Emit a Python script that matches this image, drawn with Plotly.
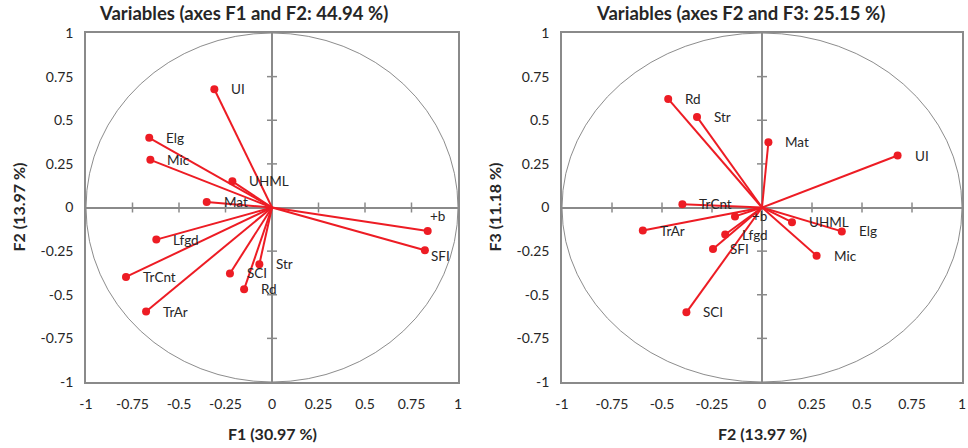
import plotly.graph_objects as go

# ---- data ----
variables = ["UI", "Elg", "Mic", "UHML", "Mat", "+b", "SFI", "Lfgd", "TrCnt", "TrAr", "SCI", "Str", "Rd"]
F1 = [-0.31, -0.66, -0.654, -0.213, -0.351, 0.837, 0.822, -0.622, -0.785, -0.677, -0.226, -0.068, -0.15]
F2 = [0.678, 0.399, 0.273, 0.150, 0.032, -0.135, -0.245, -0.184, -0.398, -0.596, -0.378, -0.325, -0.469]
F3 = [0.298, -0.137, -0.276, -0.084, 0.374, -0.051, -0.238, -0.155, 0.019, -0.132, -0.601, 0.519, 0.622]

tick_vals = [-1, -0.75, -0.5, -0.25, 0, 0.25, 0.5, 0.75, 1]
tick_text = ["-1", "-0.75", "-0.5", "-0.25", "0", "0.25", "0.5", "0.75", "1"]

titles = ["Variables (axes F1 and F2: 44.94 %)", "Variables (axes F2 and F3: 25.15 %)"]
x_titles = ["F1 (30.97 %)", "F2 (13.97 %)"]
y_titles = ["F2 (13.97 %)", "F3 (11.18 %)"]

# ---- style ----
W, H = 968, 448
RED = "#ED1C24"
GREY = "#8A8A8A"
FONT = "Lato"
TXT = "#262626"

panels = [
    dict(xs=F1, ys=F2, xdom=(86 / W, 458 / W), xa="x", ya="y",
         label_shift={"+b": (0, 15), "SFI": (4, -6)}),
    dict(xs=F2, ys=F3, xdom=(562 / W, 962 / W), xa="x2", ya="y2",
         label_shift={}),
]
ydom = ((448 - 382) / H, (448 - 33) / H)

fig = go.Figure()
shapes = []
annotations = []

for i, p in enumerate(panels):
    xs, ys = p["xs"], p["ys"]
    lx, ly = [], []
    for x, y in zip(xs, ys):
        lx += [0, x, None]
        ly += [0, y, None]
    fig.add_trace(go.Scatter(x=lx, y=ly, mode="lines", xaxis=p["xa"], yaxis=p["ya"],
                             line=dict(color=RED, width=2), hoverinfo="skip", showlegend=False))
    fig.add_trace(go.Scatter(x=xs, y=ys, mode="markers", xaxis=p["xa"], yaxis=p["ya"],
                             marker=dict(color=RED, size=8), text=variables,
                             showlegend=False))
    # unit circle
    shapes.append(dict(type="circle", xref=p["xa"], yref=p["ya"], x0=-1, y0=-1, x1=1, y1=1,
                       line=dict(color="#6E6E6E", width=0.8), layer="below"))
    # cross ticks on zero lines
    for v in tick_vals:
        if v in (-1, 0, 1):
            continue
        shapes.append(dict(type="line", xref=p["xa"], yref=p["ya"], x0=v, x1=v,
                           ysizemode="pixel", yanchor=0, y0=-5, y1=5,
                           line=dict(color=GREY, width=1.5), layer="below"))
        shapes.append(dict(type="line", xref=p["xa"], yref=p["ya"], y0=v, y1=v,
                           xsizemode="pixel", xanchor=0, x0=-5, x1=5,
                           line=dict(color=GREY, width=1.5), layer="below"))
    # point labels
    for name, x, y in zip(variables, xs, ys):
        dx, dy = p["label_shift"].get(name, (15, 0))
        annotations.append(dict(x=x, y=y, xref=p["xa"], yref=p["ya"], text=name,
                                showarrow=False, xanchor="left", yanchor="middle",
                                xshift=dx, yshift=dy,
                                font=dict(family=FONT, size=13.5, color=TXT)))
    xmid = (p["xdom"][0] + p["xdom"][1]) / 2
    # title
    tcx = [243 / W, 740 / W][i]
    annotations.append(dict(x=tcx, y=1 - 13 / H, xref="paper", yref="paper", text="<b>" + titles[i] + "</b>",
                            showarrow=False, xanchor="center", yanchor="middle",
                            font=dict(family=FONT, size=18.5, color=TXT)))
    annotations.append(dict(x=xmid, y=1 - 433 / H, xref="paper", yref="paper", text="<b>" + x_titles[i] + "</b>",
                            showarrow=False, xanchor="center", yanchor="middle",
                            font=dict(family=FONT, size=16, color=TXT)))
    ytx = [18 / W, 494 / W][i]
    annotations.append(dict(x=ytx, y=(ydom[0] + ydom[1]) / 2, xref="paper", yref="paper",
                            text="<b>" + y_titles[i] + "</b>", textangle=-90,
                            showarrow=False, xanchor="center", yanchor="middle",
                            font=dict(family=FONT, size=16, color=TXT)))

axis_common = dict(range=[-1, 1], tickvals=tick_vals, ticktext=tick_text, showgrid=False,
                   zeroline=True, zerolinecolor=GREY, zerolinewidth=2,
                   showline=True, linecolor=GREY, linewidth=1.5, mirror=True, automargin=False,
                   ticks="", tickfont=dict(family=FONT, size=14, color=TXT), fixedrange=True)

fig.update_layout(
    width=W, height=H, margin=dict(l=0, r=0, t=0, b=0),
    paper_bgcolor="white", plot_bgcolor="white",
    xaxis=dict(domain=list(panels[0]["xdom"]), anchor="y", ticklabelstandoff=8, **axis_common),
    yaxis=dict(domain=list(ydom), anchor="x", ticklabelstandoff=8, **axis_common),
    xaxis2=dict(domain=list(panels[1]["xdom"]), anchor="y2", ticklabelstandoff=8, **axis_common),
    yaxis2=dict(domain=list(ydom), anchor="x2", ticklabelstandoff=8, **axis_common),
    shapes=shapes, annotations=annotations, showlegend=False,
)

fig.write_html("out.html", config={"displayModeBar": False},
               post_script="document.body.style.margin='0';document.body.style.overflow='hidden';")
